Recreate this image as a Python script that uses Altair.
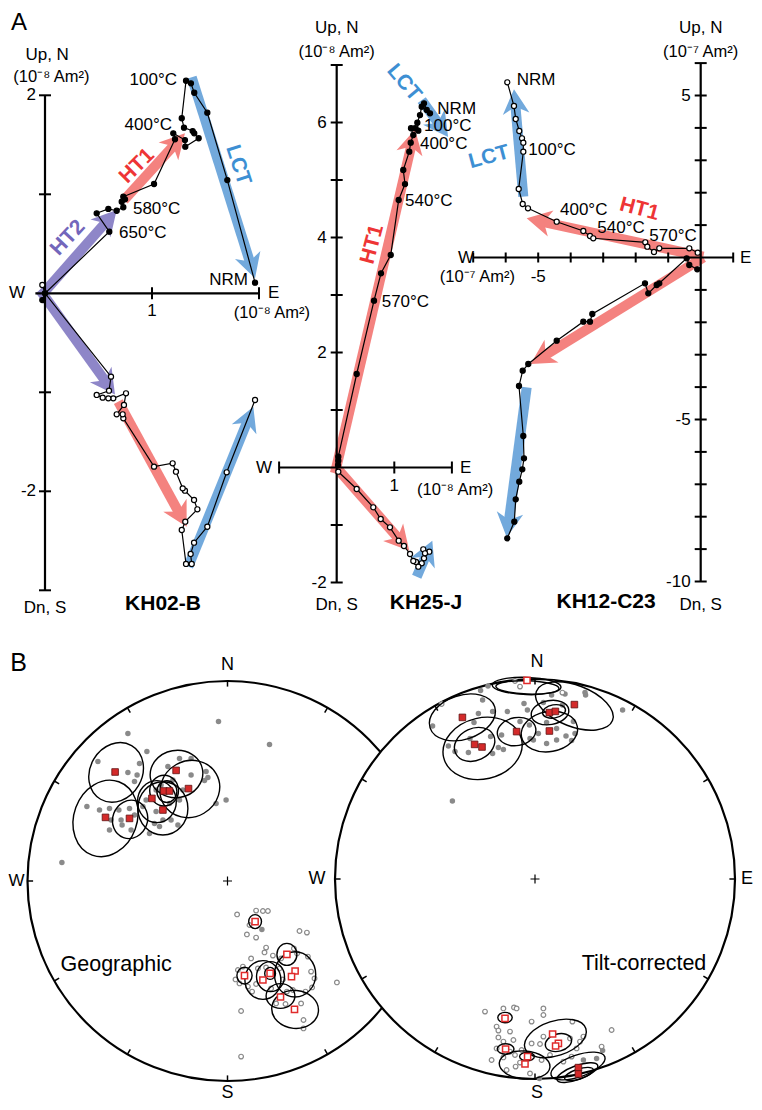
import math
import altair as alt
import pandas as pd

W, H = 746, 1094
FONT = "Liberation Sans"

BLUE, RED, PURPLE = "#72a9dc", "#f4827f", "#8e86c8"
TXT = {"LCT": "#3d8fd3", "HT1": "#ee3535", "HT2": "#7366bb"}
ARW = {"LCT": BLUE, "HT1": RED, "HT2": PURPLE}

# ---------------- Panel A data (E, N) filled / (E, Up) open ----------------
KH02_H = [(1.963, 0.107), (1.704, 1.144), (1.517, 1.824), (1.395, 2.026), (1.364, 2.121),
          (1.318, 2.147), (1.278, 1.768), (1.299, 1.673), (1.380, 1.639), (1.395, 1.616),
          (1.436, 1.566), (1.311, 1.481), (1.308, 1.548), (1.199, 1.616), (1.215, 1.556),
          (1.019, 1.104), (0.732, 0.976), (0.748, 0.949), (0.717, 0.925), (0.732, 0.869),
          (0.670, 0.834), (0.592, 0.852), (0.483, 0.808), (0.601, 0.622), (0.0, 0.0),
          (-0.025, -0.068)]
KH02_V = [(1.963, -1.078), (1.698, -1.808), (1.517, -2.358), (1.393, -2.519), (1.361, -2.633),
          (1.371, -2.734), (1.318, -2.734), (1.278, -2.391), (1.311, -2.307), (1.424, -2.182),
          (1.393, -2.088), (1.308, -1.994), (1.287, -1.970), (1.224, -1.802), (1.193, -1.717),
          (1.019, -1.751), (0.732, -1.263), (0.726, -1.222), (0.670, -1.222), (0.738, -1.128),
          (0.757, -1.010), (0.638, -1.061), (0.592, -1.061), (0.539, -1.054), (0.483, -1.027),
          (0.598, -0.984), (0.617, -0.842), (0.0, 0.0), (-0.025, 0.084)]
KH02_ARROWS = [(1.371, 2.182, 1.963, 0.152, "LCT"), (1.339, -2.762, 1.947, -1.145, "LCT"),
               (0.738, 0.942, 1.308, 1.616, "HT1"), (0.685, -1.095, 1.324, -2.358, "HT1"),
               (-0.047, -0.037, 0.670, 0.841, "HT2"), (-0.047, 0.033, 0.654, -1.022, "HT2")]
KH02_STEPS = [("NRM", 1.897, 0.134, "right"), ("100°C", 1.234, 2.155, "right"),
              ("400°C", 1.187, 1.700, "right"), ("580°C", 0.822, 0.852, "left"),
              ("650°C", 0.692, 0.609, "left")]
KH02_COMP = [("LCT", 1.804, 1.296, 72), ("HT1", 0.86, 1.286, 315), ("HT2", 0.215, 0.559, 313)]
KH02_YTICKS, KH02_YLABELS = [2, 1, -1, -2, -3], [2, -2]
KH02_XTICKS, KH02_XLABELS = [1, 2], [1]

KH25_H = [(1.516, 6.334), (1.563, 6.217), (1.62, 6.16), (1.476, 6.275), (1.446, 6.13),
          (1.4, 5.997), (1.417, 5.857), (1.36, 5.9), (1.29, 5.9), (1.33, 5.783),
          (1.285, 5.649), (1.26, 5.492), (1.156, 5.174), (1.186, 4.93), (1.076, 4.652),
          (0.938, 3.696), (0.769, 3.377), (0.648, 2.901), (0.347, 1.626), (0.028, 0.188),
          (0.028, 0.118), (0.023, 0.043)]
KH25_V = [(1.516, -1.579), (1.503, -1.423), (1.608, -1.464), (1.533, -1.492), (1.476, -1.666),
          (1.417, -1.725), (1.377, -1.643), (1.33, -1.626), (1.273, -1.504), (1.168, -1.365),
          (1.076, -1.273), (0.925, -1.04), (0.764, -0.896), (0.635, -0.692), (0.347, -0.374),
          (0.028, -0.073)]
KH25_ARROWS = [(-0.03, -0.10, 1.36, 5.88, "HT1"), (1.476, 6.39, 1.934, 5.748, "LCT"),
               (-0.05, 0.05, 1.26, -1.447, "HT1"), (1.389, -1.90, 1.66, -1.273, "LCT")]
KH25_STEPS = [("NRM", 1.747, 6.23, "left"), ("100°C", 1.516, 5.935, "left"),
              ("400°C", 1.446, 5.63, "left"), ("540°C", 1.186, 4.64, "left"),
              ("570°C", 0.781, 2.883, "left")]
KH25_COMP = [("LCT", 1.168, 6.692, 50), ("HT1", 0.618, 3.882, 285)]
KH25_YTICKS, KH25_YLABELS = [7, 6, 5, 4, 3, 2, 1, -1, -2], [6, 4, 2, -2]
KH25_XTICKS, KH25_XLABELS = [-1, 1, 2], [1]

KH12_H = [(-5.951, -8.667), (-5.735, -8.154), (-5.692, -7.463), (-5.582, -6.92), (-5.489, -6.537),
          (-5.437, -6.198), (-5.458, -5.509), (-5.591, -3.966), (-5.477, -3.494), (-5.305, -3.287),
          (-4.431, -2.568), (-3.612, -1.981), (-3.406, -1.981), (-3.335, -1.744), (-1.714, -0.796),
          (-1.612, -1.105), (-1.354, -0.849), (-1.274, -0.796), (-0.431, -0.025), (-0.351, -0.231),
          (-0.105, -0.364)]
KH12_V = [(-5.951, 5.407), (-5.745, 4.676), (-5.692, 4.275), (-5.582, 3.904), (-5.498, 3.679),
          (-5.458, 3.543), (-5.458, 3.265), (-5.6, 2.114), (-5.477, 1.651), (-5.314, 1.519),
          (-4.431, 1.105), (-3.612, 0.818), (-3.406, 0.664), (-3.305, 0.593), (-1.705, 0.469),
          (-1.643, 0.333), (-1.437, 0.17), (-1.274, 0.284), (-0.351, 0.284), (-0.092, 0.148)]
KH12_ARROWS = [(-5.458, 1.877, -5.745, 5.19, "LCT"), (0.08, 0.025, -5.354, 1.21, "HT1"),
               (0.08, 0.0, -5.231, -3.287, "HT1"), (-5.354, -4.006, -5.969, -8.636, "LCT")]
KH12_STEPS = [("NRM", -5.662, 5.478, "left"), ("100°C", -5.305, 3.318, "left"),
              ("400°C", -4.329, 1.466, "left"), ("540°C", -3.182, 0.901, "left"),
              ("570°C", -1.582, 0.664, "left")]
KH12_COMP = [("LCT", -6.514, 3.093, 345), ("HT1", -1.889, 1.488, 15)]
KH12_YTICKS = [6, 5, 4, 3, 2, 1, -1, -2, -3, -4, -5, -6, -7, -8, -9, -10]
KH12_YLABELS = [5, -5, -10]
KH12_XTICKS, KH12_XLABELS = [-7, -6, -5, -4, -3, -2, -1, 1], [-5]

# ---------------- Panel B data (equal-area projection, unit radius) ----------------
GEO_DOWN = [(-0.045, 0.797), (0.21, 0.683), (-0.498, 0.738), (-0.403, 0.647), (-0.648, 0.597),
            (-0.44, 0.588), (-0.498, 0.543), (-0.452, 0.53), (-0.465, 0.497), (-0.703, 0.372),
            (-0.59, 0.363), (-0.543, 0.355), (-0.49, 0.363), (-0.465, 0.33), (-0.527, 0.28),
            (-0.59, 0.255), (-0.582, 0.305), (-0.39, 0.238), (-0.365, 0.288), (-0.323, 0.305),
            (-0.282, 0.305), (-0.248, 0.28), (-0.182, 0.53), (-0.107, 0.547), (-0.098, 0.518),
            (-0.115, 0.502), (-0.182, 0.613), (-0.24, 0.613), (-0.298, 0.572), (-0.007, 0.405),
            (-0.057, 0.388), (-0.828, 0.092), (-0.357, 0.455), (-0.332, 0.48), (-0.273, 0.505),
            (-0.24, 0.405), (-0.423, 0.372), (-0.407, 0.405), (-0.357, 0.347), (-0.29, 0.388),
            (-0.223, 0.455), (-0.482, 0.255), (-0.532, 0.305), (-0.34, 0.272), (-0.64, 0.355),
            (0.172, -0.242)]
GEO_UP = [(0.048, -0.167), (0.143, -0.148), (0.177, -0.15), (0.202, -0.15), (0.11, -0.22),
          (0.097, -0.267), (0.143, -0.283), (0.36, -0.25), (0.397, -0.258), (0.193, -0.333),
          (0.185, -0.357), (0.227, -0.373), (0.268, -0.387), (0.332, -0.337), (0.348, -0.362),
          (0.402, -0.378), (0.418, -0.453), (0.435, -0.487), (0.423, -0.532), (0.39, -0.553),
          (0.368, -0.612), (0.38, -0.695), (0.38, -0.737), (0.243, -0.612), (0.29, -0.615),
          (0.218, -0.537), (0.143, -0.515), (0.123, -0.553), (0.102, -0.528), (0.06, -0.512),
          (0.052, -0.445), (0.077, -0.428), (0.118, -0.387), (0.193, -0.432), (0.26, -0.437),
          (0.297, -0.553), (0.547, -0.507), (0.068, -0.65), (0.068, -0.878), (0.04, -0.492),
          (0.152, -0.437), (0.277, -0.492), (0.327, -0.545)]
GEO_MEAN_DOWN = [(-0.562, 0.545), (-0.257, 0.553), (-0.195, 0.462), (-0.318, 0.45), (-0.29, 0.45),
                 (-0.378, 0.413), (-0.323, 0.355), (-0.61, 0.318), (-0.49, 0.313)]
GEO_MEAN_UP = [(0.138, -0.203), (0.085, -0.473), (0.177, -0.495), (0.213, -0.462), (0.297, -0.367),
               (0.338, -0.45), (0.32, -0.478), (0.265, -0.58), (0.335, -0.642)]
# ellipses: centre x, centre y, semi-major, semi-minor, rotation of major axis (deg)
GEO_ELL = [(-0.557, 0.543, 0.155, 0.13, 30), (-0.61, 0.313, 0.195, 0.158, 20),
           (-0.487, 0.308, 0.097, 0.087, 20), (-0.255, 0.535, 0.132, 0.118, 80),
           (-0.188, 0.46, 0.152, 0.14, 60), (-0.317, 0.452, 0.077, 0.072, 0),
           (-0.303, 0.447, 0.054, 0.05, 0), (-0.323, 0.363, 0.133, 0.125, 0),
           (-0.353, 0.397, 0.105, 0.097, 0),
           (0.138, -0.203, 0.035, 0.032, 0), (0.085, -0.473, 0.042, 0.038, 0),
           (0.177, -0.495, 0.097, 0.09, 0), (0.213, -0.462, 0.03, 0.027, 0),
           (0.297, -0.367, 0.055, 0.05, 0), (0.338, -0.467, 0.113, 0.103, 0),
           (0.265, -0.575, 0.072, 0.062, 90), (0.338, -0.642, 0.117, 0.095, 95),
           (0.215, -0.478, 0.075, 0.07, 0)]

TILT_DOWN = [(-0.235, 0.965), (-0.272, 0.942), (-0.262, 0.895), (-0.512, 0.765), (-0.305, 0.782),
             (-0.212, 0.837), (-0.138, 0.837), (-0.055, 0.878), (-0.038, 0.845), (-0.028, 0.77),
             (-0.075, 0.787), (-0.167, 0.72), (-0.222, 0.712), (-0.212, 0.628), (-0.333, 0.632),
             (-0.4, 0.637), (-0.433, 0.665), (-0.158, 0.648), (-0.008, 0.695), (0.058, 0.678),
             (0.155, 0.715), (0.183, 0.692), (0.2, 0.728), (0.108, 0.753), (0.042, 0.882),
             (0.083, 0.92), (0.15, 0.925), (0.25, 0.932), (0.253, 0.92), (0.438, 0.845),
             (-0.413, 0.39), (0.137, 0.87), (0.192, 0.787), (0.017, 0.728), (-0.283, 0.828),
             (0.058, 0.782), (-0.025, 0.703), (0.108, 0.695), (-0.325, 0.703), (-0.183, 0.658),
             (0.308, -0.897), (0.338, -0.858), (0.022, -0.997), (0.242, -0.905)]
TILT_UP = [(-0.1, 0.99), (-0.075, 0.962), (-0.467, 0.875), (0.137, 0.932),
           (-0.25, -0.663), (-0.158, -0.647), (-0.105, -0.642), (-0.092, -0.647), (0.042, -0.647),
           (0.042, -0.68), (-0.017, -0.713), (0.187, -0.713), (0.383, -0.755), (-0.192, -0.738),
           (-0.183, -0.758), (-0.125, -0.763), (-0.183, -0.792), (-0.158, -0.813), (-0.108, -0.805),
           (-0.192, -0.847), (-0.217, -0.905), (-0.158, -0.892), (-0.1, -0.88), (-0.097, -0.938),
           (-0.067, -0.855), (-0.017, -0.822), (0.042, -0.788), (0.025, -0.825), (0.033, -0.905),
           (0.075, -0.88), (0.142, -0.913), (0.183, -0.888), (0.225, -0.813), (0.242, -0.788),
           (0.208, -0.847), (0.333, -0.838), (-0.075, -0.918), (-0.025, -0.972), (-0.142, -0.955),
           (0.175, -0.797), (-0.125, -0.863)]
TILT_MEAN_DOWN = [(-0.363, 0.808), (-0.302, 0.673), (-0.265, 0.66), (-0.092, 0.737), (0.072, 0.74),
                  (0.072, 0.832), (0.102, 0.838), (0.197, 0.872), (0.217, -0.943), (0.217, -0.975)]
TILT_MEAN_UP = [(-0.04, 0.993), (-0.15, -0.697), (-0.147, -0.85), (-0.037, -0.888), (-0.05, -0.925),
                (0.088, -0.775), (0.117, -0.822), (0.103, -0.835)]
TILT_ELL = [(-0.363, 0.808, 0.17, 0.11, 72), (-0.262, 0.653, 0.2, 0.153, 77),
            (-0.302, 0.673, 0.105, 0.08, 65), (-0.092, 0.737, 0.097, 0.07, 80),
            (0.072, 0.737, 0.142, 0.1, 80), (0.075, 0.832, 0.095, 0.06, 80),
            (0.095, 0.838, 0.058, 0.033, 80), (0.197, 0.865, 0.204, 0.103, 111),
            (-0.042, 0.965, 0.172, 0.043, 92), (-0.038, 0.958, 0.158, 0.033, 92),
            (-0.15, -0.693, 0.036, 0.026, 90), (-0.147, -0.85, 0.042, 0.026, 90),
            (-0.04, -0.888, 0.037, 0.021, 90), (-0.052, -0.93, 0.127, 0.07, 95),
            (0.102, -0.797, 0.16, 0.087, 72), (0.117, -0.818, 0.067, 0.043, 75),
            (0.215, -0.935, 0.142, 0.055, 71), (0.212, -0.968, 0.108, 0.035, 70),
            (0.22, -0.975, 0.075, 0.025, 72)]
NET_TICKS = list(range(0, 360, 30))


# ---------------- helpers ----------------
def panel(ox, oy, sx, sy):
    return dict(xd=[(8 - ox) / sx, (8 + W - ox) / sx],
                yd=[(oy - 8 - H) / sy, (oy - 8) / sy], sx=sx, sy=sy)


P1 = panel(45, 293.3, 107, 99)
P2 = panel(336.7, 467.5, 57.6, 57.5)
P3 = panel(700.7, 257.5, 32.5, 32.4)
NL = panel(227.5, 881, 200, 200)
NR = panel(535, 879, 200, 200)


def X(p):
    return alt.X("x:Q", scale=alt.Scale(domain=p["xd"], nice=False, zero=False), axis=None)


def Y(p):
    return alt.Y("y:Q", scale=alt.Scale(domain=p["yd"], nice=False, zero=False), axis=None)


def xy(pts):
    return pd.DataFrame({"x": [a for a, b in pts], "y": [b for a, b in pts], "i": range(len(pts))})


def text_layer(p, rows, size=17, weight="normal", color="black", align="center", angle=0, dx=0, dy=0):
    df = pd.DataFrame(rows, columns=["t", "x", "y"])
    return alt.Chart(df).mark_text(font=FONT, fontSize=size, fontWeight=weight, color=color,
                                   align=align, baseline="middle", angle=angle, dx=dx, dy=dy
                                   ).encode(x=X(p), y=Y(p), text="t:N")


HEAD = "M0,0L0.95,1.75L0,1.25L-0.95,1.75Z"
HS = 14


def arrow_layers(p, arrows):
    shafts, heads = [], []
    for x1, y1, x2, y2, comp in arrows:
        px, py = (x2 - x1) * p["sx"], (y2 - y1) * p["sy"]
        L = math.hypot(px, py)
        ux, uy = px / L, py / L
        shafts.append(dict(x=x1, y=y1, x2=x2 - ux * HS / p["sx"], y2=y2 - uy * HS / p["sy"], c=ARW[comp]))
        heads.append(dict(x=x2, y=y2, a=math.degrees(math.atan2(ux, uy)) % 360, c=ARW[comp]))
    s = alt.Chart(pd.DataFrame(shafts)).mark_rule(strokeWidth=10, strokeCap="butt").encode(
        x=X(p), y=Y(p), x2="x2:Q", y2="y2:Q", color=alt.Color("c:N", scale=None))
    h = alt.Chart(pd.DataFrame(heads)).mark_point(shape=HEAD, size=(2 * HS) ** 2, filled=True,
                                                  opacity=1, strokeWidth=0).encode(
        x=X(p), y=Y(p), angle=alt.Angle("a:Q", scale=None), color=alt.Color("c:N", scale=None))
    return [s, h]


def zijderveld(p, hor, ver, arrows, xr, yr, xt, yt, xl, yl, steps, comps, extra, tick_h=12, xl_dy=18,
               yl_dx=-9):
    layers = arrow_layers(p, arrows)
    ax = pd.DataFrame([dict(x=xr[0], y=0, x2=xr[1], y2=0), dict(x=0, y=yr[0], x2=0, y2=yr[1])])
    layers.append(alt.Chart(ax).mark_rule(color="black", strokeWidth=2.2).encode(
        x=X(p), y=Y(p), x2="x2:Q", y2="y2:Q"))
    layers.append(alt.Chart(pd.DataFrame({"x": [0] * len(yt), "y": yt})).mark_tick(
        orient="horizontal", size=12, thickness=2, color="black", opacity=1).encode(x=X(p), y=Y(p)))
    layers.append(alt.Chart(pd.DataFrame({"x": xt, "y": [0] * len(xt)})).mark_tick(
        orient="vertical", size=tick_h, thickness=2, color="black", opacity=1).encode(x=X(p), y=Y(p)))
    for pts, fill in ((ver, "white"), (hor, "black")):
        df = xy(pts)
        layers.append(alt.Chart(df).mark_line(color="black", strokeWidth=1.2).encode(
            x=X(p), y=Y(p), order="i:Q"))
        layers.append(alt.Chart(df).mark_point(shape="circle", size=26, filled=True, fill=fill,
                                               stroke="black", strokeWidth=1.2, opacity=1).encode(
            x=X(p), y=Y(p)))
    layers.append(text_layer(p, [(str(v), 0, v) for v in yl], align="right", dx=yl_dx))
    layers.append(text_layer(p, [(str(v), v, 0) for v in xl], dy=xl_dy))
    for al in ("left", "right"):
        rows = [(t, x, y) for t, x, y, a in steps if a == al]
        if rows:
            layers.append(text_layer(p, rows, size=17, align=al))
    for t, x, y, ang in comps:
        layers.append(text_layer(p, [(t, x, y)], size=21, weight="bold", color=TXT[t], angle=ang))
    for rows, kw in extra:
        layers.append(text_layer(p, rows, **kw))
    return alt.layer(*layers)


U8, U7 = "(10⁻⁸ Am²)", "(10⁻⁷ Am²)"
g1 = zijderveld(P1, KH02_H, KH02_V, KH02_ARROWS, (-0.09, 2), (-3, 2), KH02_XTICKS, KH02_YTICKS,
                KH02_XLABELS, KH02_YLABELS, KH02_STEPS, KH02_COMP,
                [([("Up, N", 0.02, 2.407), ("Dn, S", 0, -3.18), ("W", -0.262, 0)], {}),
                 ([(U8, 0.06, 2.185)], dict(size=16.5)),
                 ([("E", 2.084, 0)], dict(align="left")),
                 ([(U8, 2.121, -0.199)], dict(size=16.5)),
                 ([("KH02-B", 1.103, -3.138)], dict(size=21, weight="bold")),
                 ([("A", -0.243, 2.735)], dict(size=24))])
g2 = zijderveld(P2, KH25_H, KH25_V, KH25_ARROWS, (-1, 2), (-2, 7), KH25_XTICKS, KH25_YTICKS,
                KH25_XLABELS, KH25_YLABELS, KH25_STEPS, KH25_COMP,
                [([("Up, N", 0, 7.643), ("Dn, S", 0, -2.391), ("W", -1.262, 0)], {}),
                 ([(U8, 0, 7.226)], dict(size=16.5)),
                 ([("E", 2.14, 0)], dict(align="left")),
                 ([(U8, 1.394, -0.391)], dict(align="left", size=16.5)),
                 ([("KH25-J", 1.55, -2.357)], dict(size=21, weight="bold"))], yl_dx=-10)
g3 = zijderveld(P3, KH12_H, KH12_V, KH12_ARROWS, (-7, 1), (-10, 6), KH12_XTICKS, KH12_YTICKS,
                KH12_XLABELS, KH12_YLABELS, KH12_STEPS, KH12_COMP,
                [([("Up, N", 0, 7.083), ("Dn, S", 0, -10.725), ("W", -7.222, 0)], {}),
                 ([(U7, 0, 6.343)], dict(size=16.5)),
                 ([("E", 1.209, 0)], dict(align="left")),
                 ([(U7, -5.714, -0.602)], dict(align="right", size=16.5)),
                 ([("KH12-C23", -2.91, -10.633)], dict(size=21, weight="bold"))],
                tick_h=10, xl_dy=19, yl_dx=-10)


def ell_path(k):
    c = 0.5523
    a, b = k * c, k
    return (f"M0,-1C{a:.4f},-1 {b:.4f},-{c} {b:.4f},0C{b:.4f},{c} {a:.4f},1 0,1"
            f"C{-a:.4f},1 {-b:.4f},{c} {-b:.4f},0C{-b:.4f},-{c} {-a:.4f},-1 0,-1Z")


def stereonet(p, down, up, mean_down, mean_up, ells, labels):
    R = p["sx"]
    c0 = pd.DataFrame({"x": [0], "y": [0]})
    layers = [
        alt.Chart(c0).mark_point(shape="circle", size=(2 * R) ** 2, filled=True, fill="white",
                                 stroke="black", strokeWidth=2.2, opacity=1).encode(x=X(p), y=Y(p)),
        alt.Chart(pd.DataFrame({"x": 0, "y": 0, "a": NET_TICKS})).mark_point(
            shape="M0,-1L0,-0.972", size=(2 * R) ** 2, filled=False, stroke="black",
            strokeWidth=1.5, opacity=1).encode(x=X(p), y=Y(p), angle=alt.Angle("a:Q", scale=None)),
        alt.Chart(c0).mark_point(shape="M-1,0L1,0M0,-1L0,1", size=81, filled=False, stroke="black",
                                 strokeWidth=1.2, opacity=1).encode(x=X(p), y=Y(p)),
        alt.Chart(xy(down)).mark_point(shape="circle", size=30, filled=True, fill="#8a8a8a",
                                       strokeWidth=0, opacity=1).encode(x=X(p), y=Y(p)),
        alt.Chart(xy(up)).mark_point(shape="circle", size=22, filled=True, fill="white",
                                     stroke="#8a8a8a", strokeWidth=1.2, opacity=1).encode(x=X(p), y=Y(p)),
    ]
    edf = pd.DataFrame([dict(x=x, y=y, s=ell_path(b / a), z=(2 * a * R) ** 2, r=rot)
                        for x, y, a, b, rot in ells])
    layers.append(alt.Chart(edf).mark_point(filled=False, stroke="black", strokeWidth=1.4,
                                            opacity=1).encode(
        x=X(p), y=Y(p), shape=alt.Shape("s:N", scale=None), size=alt.Size("z:Q", scale=None),
        angle=alt.Angle("r:Q", scale=None)))
    layers.append(alt.Chart(xy(mean_down)).mark_point(shape="square", size=44, filled=True,
                                                      fill="#d42a2a", stroke="#5e1111",
                                                      strokeWidth=0.8, opacity=1).encode(x=X(p), y=Y(p)))
    layers.append(alt.Chart(xy(mean_up)).mark_point(shape="square", size=38, filled=True,
                                                    fill="white", stroke="#e02b2b",
                                                    strokeWidth=1.5, opacity=1).encode(x=X(p), y=Y(p)))
    for rows, kw in labels:
        layers.append(text_layer(p, rows, **kw))
    return alt.layer(*layers)


g4 = stereonet(NL, GEO_DOWN, GEO_UP, GEO_MEAN_DOWN, GEO_MEAN_UP, GEO_ELL,
               [([("N", 0, 1.08), ("S", 0, -1.06)], dict(size=18)),
                ([("W", -1.015, 0)], dict(size=17, align="right")),
                ([("Geographic", -0.557, -0.42)], dict(size=21.5)),
                ([("B", -1.045, 1.09)], dict(size=25))])
g5 = stereonet(NR, TILT_DOWN, TILT_UP, TILT_MEAN_DOWN, TILT_MEAN_UP, TILT_ELL,
               [([("N", 0.01, 1.085), ("S", 0.01, -1.07), ("W", -1.09, 0)], dict(size=18)),
                ([("E", 1.03, 0)], dict(size=18, align="left")),
                ([("Tilt-corrected", 0.545, -0.425)], dict(size=21.5))])

chart = alt.layer(g1, g2, g3, g4, g5).resolve_scale(x="independent", y="independent").properties(
    width=W, height=H, padding=0, autosize=alt.AutoSizeParams(type="none"), background="white"
).configure_view(stroke=None)

chart.save("out.html", embed_options={"renderer": "svg", "actions": False})
